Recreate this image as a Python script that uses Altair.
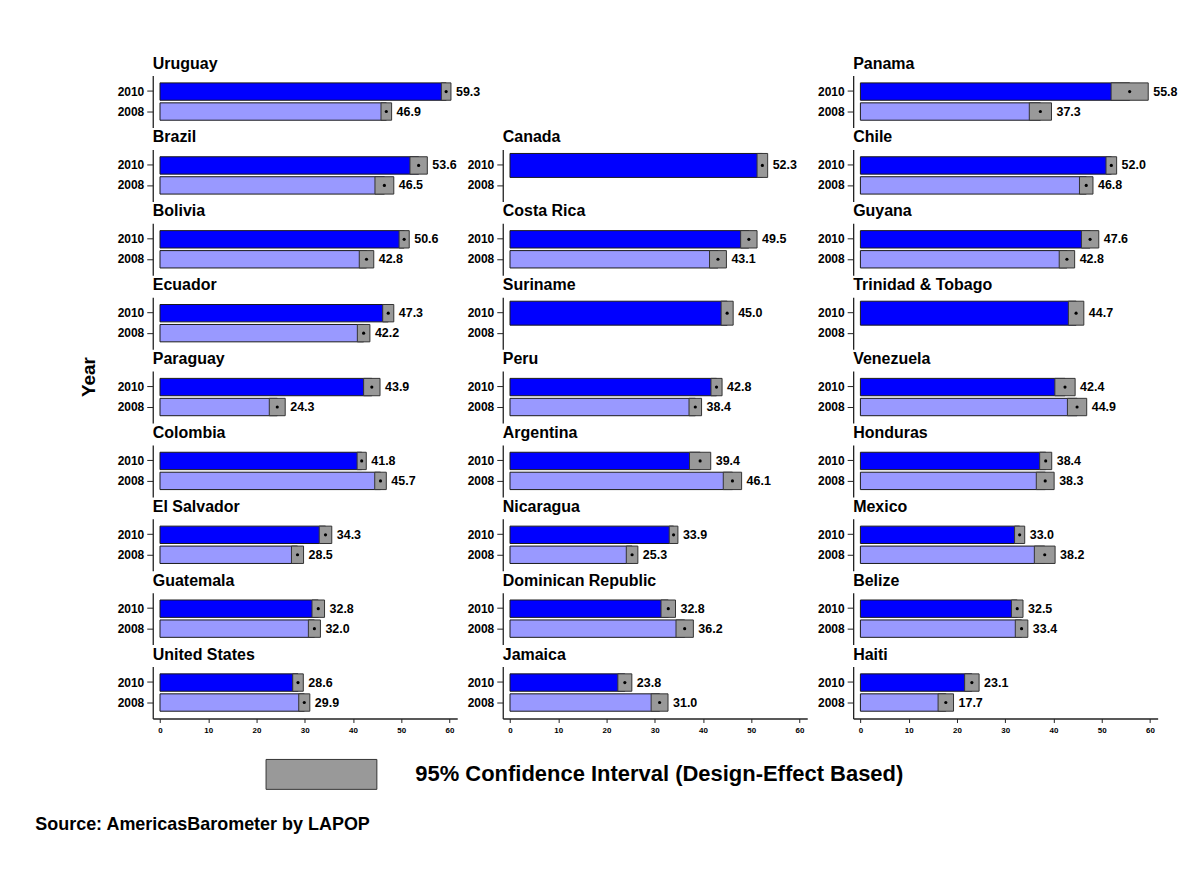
import altair as alt
import pandas as pd

FONT = "Liberation Sans"
CI_LABEL = "95% Confidence Interval (Design-Effect Based)"
SOURCE = "Source: AmericasBarometer by  LAPOP"

countries = ["Uruguay", "Brazil", "Bolivia", "Ecuador", "Paraguay", "Colombia",
             "El Salvador", "Guatemala", "United States",
             "Canada", "Costa Rica", "Suriname", "Peru", "Argentina", "Nicaragua",
             "Dominican Republic", "Jamaica",
             "Panama", "Chile", "Guyana", "Trinidad & Tobago", "Venezuela",
             "Honduras", "Mexico", "Belize", "Haiti"]
column = [1] * 9 + [2] * 8 + [3] * 9
years = ["2010", "2008"]
val_2010 = [59.3, 53.6, 50.6, 47.3, 43.9, 41.8, 34.3, 32.8, 28.6,
            52.3, 49.5, 45.0, 42.8, 39.4, 33.9, 32.8, 23.8,
            55.8, 52.0, 47.6, 44.7, 42.4, 38.4, 33.0, 32.5, 23.1]
ci_2010 = [1.0, 1.8, 1.05, 1.15, 1.7, 0.95, 1.3, 1.3, 1.1,
           1.1, 1.7, 1.25, 1.15, 2.2, 0.9, 1.5, 1.45,
           3.85, 1.1, 1.8, 1.6, 2.1, 1.25, 1.05, 1.2, 1.5]
val_2008 = [46.9, 46.5, 42.8, 42.2, 24.3, 45.7, 28.5, 32.0, 29.9,
            None, 43.1, None, 38.4, 46.1, 25.3, 36.2, 31.0,
            37.3, 46.8, 42.8, None, 44.9, 38.3, 38.2, 33.4, 17.7]
ci_2008 = [1.1, 1.95, 1.5, 1.3, 1.65, 1.2, 1.25, 1.25, 1.15,
           None, 1.75, None, 1.3, 1.9, 1.2, 1.8, 1.75,
           2.3, 1.4, 1.6, None, 2.0, 1.85, 2.15, 1.3, 1.6]
x_ticks = [0, 10, 20, 30, 40, 50, 60]

rows = []
for i, c in enumerate(countries):
    n_years = 1 if val_2008[i] is None else 2
    for yr, vals, cis in (("2010", val_2010, ci_2010), ("2008", val_2008, ci_2008)):
        v = vals[i]
        if v is None:
            continue
        rows.append(dict(country=c, col=column[i], year=yr, value=v,
                         lo=v - cis[i], hi=v + cis[i], n_years=n_years, ci=CI_LABEL))
df = pd.DataFrame(rows)

x_scale = alt.Scale(domain=[-1.5, 61.6], nice=False, zero=False)
y_scale = alt.Scale(domain=years, paddingInner=0.13, paddingOuter=0.365)
x_axis = alt.Axis(values=x_ticks, format="d", labelFontSize=8, labelFontWeight="bold",
                  labelColor="black", labelFont=FONT, tickSize=4, labelPadding=4,
                  domainColor="#222222", tickColor="#222222", domainWidth=1.3,
                  grid=False, title=None)
y_axis = alt.Axis(labelFontSize=12, labelFontWeight="bold", labelColor="black",
                  labelFont=FONT, tickSize=6, labelPadding=3,
                  domainColor="#222222", tickColor="#222222", domainWidth=1.3,
                  grid=False, title=None)

legend = alt.Legend(title=None, orient="none", legendX=113, legendY=644,
                    symbolType="M-1,-0.27L1,-0.27L1,0.27L-1,0.27Z", symbolSize=12321,
                    symbolStrokeColor="#333333", symbolStrokeWidth=1,
                    labelFontSize=22, labelFontWeight="bold", labelFont=FONT,
                    labelColor="black", labelOffset=38, labelLimit=0, padding=0)


def layers():
    y = alt.Y("year:N", sort=years, scale=y_scale, axis=y_axis, title=None)
    size = alt.condition("datum.n_years == 1", alt.value(24), alt.value(17.4))
    bars = alt.Chart().mark_bar(stroke="#1a1a1a", strokeWidth=1).encode(
        x=alt.X("value:Q", scale=x_scale, axis=x_axis, title=None),
        y=y, size=size,
        fill=alt.condition("datum.year == '2010'", alt.value("#0000FF"), alt.value("#9999FF")),
    )
    ci = alt.Chart().mark_bar(stroke="#333333", strokeWidth=1).encode(
        x=alt.X("lo:Q", scale=x_scale, axis=x_axis, title=None), x2="hi:Q",
        y=y, size=size,
        fill=alt.Fill("ci:N", scale=alt.Scale(domain=[CI_LABEL], range=["#999999"]), legend=legend),
    )
    dots = alt.Chart().mark_circle(color="black", size=10, opacity=1).encode(
        x=alt.X("value:Q", scale=x_scale, axis=x_axis, title=None), y=y)
    labels = alt.Chart().mark_text(align="left", baseline="middle", dx=5, fontSize=12.5,
                                   fontWeight="bold", font=FONT, color="black").encode(
        x=alt.X("hi:Q", scale=x_scale, axis=x_axis, title=None), y=y,
        text=alt.Text("value:Q", format=".1f"))
    return [bars, ci, dots, labels]


def column_chart(k):
    order = [c for c, kk in zip(countries, column) if kk == k]
    d = df[df["col"] == k]
    return alt.layer(*layers(), data=d).properties(width=305, height=52).facet(
        facet=alt.Facet("country:N", sort=order, title=None,
                        header=alt.Header(labelFontSize=16, labelFontWeight="bold", labelFont=FONT,
                                          labelColor="black", labelAnchor="start", labelAlign="left",
                                          labelPadding=4)),
        columns=1, spacing=2)


col1 = column_chart(1).properties(title=alt.TitleParams(
    "Year", orient="left", anchor="middle", fontSize=19, fontWeight="bold", font=FONT,
    color="black", offset=18, dx=18))

# empty band that starts the middle column one panel lower
spacer = alt.Chart(pd.DataFrame({"blank": [""]})).mark_text(opacity=0).encode(
    text="blank:N").properties(width=1, height=54)
col2 = alt.vconcat(spacer, column_chart(2), spacing=0)
col3 = column_chart(3)

chart = alt.hconcat(alt.hconcat(col1, col2, spacing=-14.4), col3, spacing=9.6).properties(
    title=alt.TitleParams(SOURCE, orient="bottom", anchor="start", fontSize=18, fontWeight="bold",
                          font=FONT, color="black", offset=25, dx=-45),
    padding={"left": 27, "top": 47, "right": 5, "bottom": 5},
).configure_view(stroke=None)

chart.save("out.html", embed_options={"renderer": "svg", "actions": False})
